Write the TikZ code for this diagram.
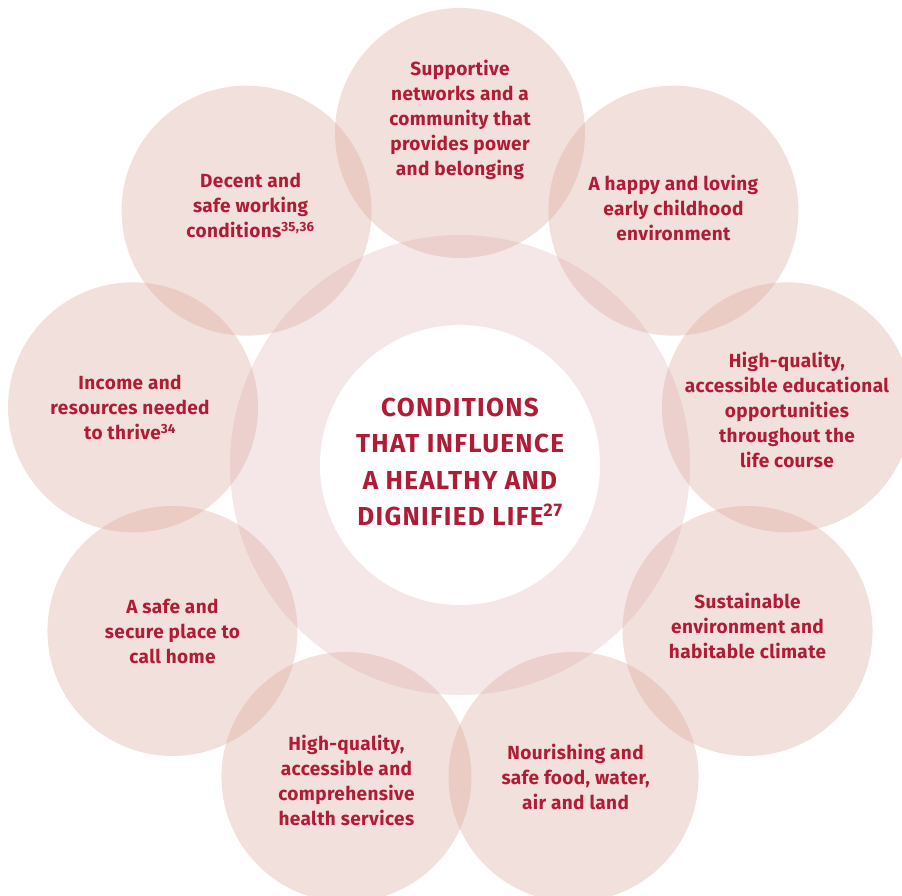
\documentclass[tikz,border=0pt]{standalone}
\usepackage{fontspec}
\setmainfont{Fira Sans}
\usepackage{tikz}
\usetikzlibrary{positioning}

\definecolor{ringpink}{RGB}{245,231,232}
\definecolor{petalpink}{RGB}{218,166,155}
\definecolor{textred}{RGB}{176,28,54}

\newcommand{\refnote}[1]{\textsuperscript{#1}}

\begin{document}
\begin{tikzpicture}[x=1pt, y=1pt,
    petal/.style={circle, draw=none, fill=petalpink, fill opacity=0.35, minimum size=250pt, inner sep=0pt},
    ring/.style={circle, draw=none, fill=ringpink, minimum size=460pt, inner sep=0pt},
    core/.style={circle, draw=none, fill=white, minimum size=280pt, inner sep=0pt},
    petaltext/.style={align=center, text=textred, font=\fontsize{19}{25}\selectfont\bfseries\addfontfeature{LetterSpace=2}},
    coretext/.style={align=center, text=textred, font=\fontsize{26}{36.5}\selectfont\bfseries\addfontfeature{LetterSpace=5}}]
    \useasboundingbox (-460,-431) rectangle (442,465);

    % Rings {ring, core}
    \node [ring]    (outer)  at (0,0)  {};
    \node [core]    (inner)  at (0,0)  {};

    % Petals {p1, p2, ..., p9}
    \node [petal]   (p1)  at (90:332)   {};
    \node [petal]   (p2)  at (50:332)   {};
    \node [petal]   (p3)  at (10:332)   {};
    \node [petal]   (p4)  at (-30:332)  {};
    \node [petal]   (p5)  at (-70:332)  {};
    \node [petal]   (p6)  at (-110:332) {};
    \node [petal]   (p7)  at (-150:332) {};
    \node [petal]   (p8)  at (170:332)  {};
    \node [petal]   (p9)  at (130:332)  {};

    % Labels
    \node [coretext]   (title)  at ([yshift=3pt]inner.center)  {CONDITIONS\\THAT INFLUENCE\\A HEALTHY AND\\DIGNIFIED LIFE\refnote{27}};
    \node [petaltext]  (t1)  at ([yshift=13pt]p1.center)  {Supportive\\networks and a\\community that\\provides power\\and belonging};
    \node [petaltext]  (t2)  at ([yshift=3pt]p2.center)   {A happy and loving\\early childhood\\environment};
    \node [petaltext]  (t3)  at ([yshift=-3pt]p3.center)  {High-quality,\\accessible educational\\opportunities\\throughout the\\life course};
    \node [petaltext]  (t4)  at ([yshift=5pt]p4.center)   {Sustainable\\environment and\\habitable climate};
    \node [petaltext]  (t5)  at ([xshift=2pt]p5.center)   {Nourishing and\\safe food, water,\\air and land};
    \node [petaltext]  (t6)  at ([yshift=-3pt]p6.center)  {High-quality,\\accessible and\\comprehensive\\health services};
    \node [petaltext]  (t7)  at (p7.center)               {A safe and\\secure place to\\call home};
    \node [petaltext]  (t8)  at ([xshift=-3pt]p8.center)  {Income and\\resources needed\\to thrive\refnote{34}};
    \node [petaltext]  (t9)  at ([xshift=4pt,yshift=5pt]p9.center)  {Decent and\\safe working\\conditions\refnote{35,36}};

\end{tikzpicture}
\end{document}
